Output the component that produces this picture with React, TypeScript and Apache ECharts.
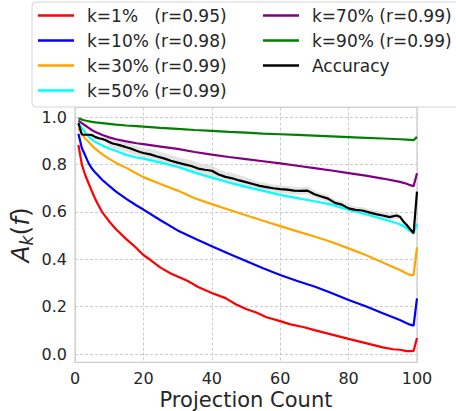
import React, { useEffect, useRef } from "react";
import * as echarts from "echarts";

const seriesNames = [
  "k=1%   (r=0.95)",
  "k=10% (r=0.98)",
  "k=30% (r=0.99)",
  "k=50% (r=0.99)",
  "k=70% (r=0.99)",
  "k=90% (r=0.99)",
  "Accuracy",
];
const seriesColors = ["#ff0000", "#0000ff", "#ffa500", "#00ffff", "#800080", "#008000", "#000000"];

const xTicks = [0, 20, 40, 60, 80, 100];

const smoothX = [1, 2, 3, 4, 5, 6, 8, 10, 12, 15, 18, 20, 25, 30, 35, 40, 45, 50, 55, 60, 65, 70, 75, 80, 85, 90, 95, 97, 98, 99, 100];

const redX = [1, 2, 3, 4, 5, 6, 8, 10, 12, 15, 18, 20, 22, 25, 28, 30, 33, 36, 40, 44, 47, 50, 53, 56, 60, 63, 67, 70, 74, 80, 85, 90, 93, 95, 97, 98, 99, 100];
const k1 = [0.883, 0.8, 0.755, 0.72, 0.685, 0.652, 0.598, 0.56, 0.527, 0.485, 0.447, 0.418, 0.398, 0.365, 0.34, 0.327, 0.308, 0.283, 0.258, 0.236, 0.21, 0.19, 0.175, 0.155, 0.139, 0.125, 0.113, 0.101, 0.086, 0.064, 0.046, 0.028, 0.02, 0.018, 0.012, 0.012, 0.013, 0.068];

const k10 = [0.93, 0.87, 0.838, 0.805, 0.782, 0.765, 0.735, 0.71, 0.686, 0.655, 0.627, 0.61, 0.565, 0.522, 0.488, 0.455, 0.423, 0.393, 0.362, 0.334, 0.308, 0.285, 0.258, 0.228, 0.202, 0.172, 0.144, 0.13, 0.124, 0.12, 0.235];
const k30 = [0.953, 0.93, 0.91, 0.895, 0.88, 0.866, 0.843, 0.824, 0.807, 0.786, 0.762, 0.747, 0.718, 0.69, 0.658, 0.633, 0.609, 0.586, 0.563, 0.54, 0.518, 0.496, 0.473, 0.446, 0.418, 0.386, 0.355, 0.34, 0.334, 0.333, 0.45];
const k50 = [0.975, 0.955, 0.935, 0.918, 0.905, 0.895, 0.88, 0.868, 0.857, 0.841, 0.83, 0.825, 0.808, 0.791, 0.766, 0.745, 0.724, 0.706, 0.689, 0.672, 0.658, 0.645, 0.631, 0.609, 0.59, 0.57, 0.548, 0.531, 0.52, 0.51, 0.55];
const k70 = [0.985, 0.975, 0.965, 0.955, 0.945, 0.938, 0.925, 0.915, 0.907, 0.898, 0.89, 0.886, 0.876, 0.866, 0.853, 0.842, 0.832, 0.823, 0.814, 0.805, 0.795, 0.785, 0.775, 0.764, 0.753, 0.741, 0.727, 0.719, 0.713, 0.709, 0.763];
const k90 = [0.995, 0.99, 0.986, 0.983, 0.98, 0.978, 0.975, 0.972, 0.969, 0.965, 0.962, 0.96, 0.955, 0.951, 0.946, 0.942, 0.938, 0.935, 0.931, 0.928, 0.925, 0.922, 0.919, 0.916, 0.913, 0.91, 0.907, 0.905, 0.904, 0.903, 0.917];

const accX = [1, 2, 3, 4, 5, 6, 7, 8, 9, 10, 11, 12, 13, 14, 15, 16, 17, 18, 19, 20,
  22, 24, 26, 28, 30, 32, 34, 36, 38, 40, 42, 44, 46, 48, 50, 52, 54, 56, 58, 60, 62, 64, 66, 68, 70, 72, 74, 76, 78, 80, 82, 84, 86, 88, 90, 92, 94,
  95, 96, 97, 98, 99, 100];
const accuracy = [0.975, 0.927, 0.926, 0.926, 0.924, 0.916, 0.911, 0.908, 0.903, 0.895, 0.889, 0.886, 0.882, 0.878, 0.873, 0.869, 0.864, 0.858, 0.853, 0.849,
  0.843, 0.834, 0.826, 0.816, 0.808, 0.801, 0.794, 0.783, 0.778, 0.774, 0.758, 0.748, 0.742, 0.733, 0.726, 0.718, 0.71, 0.705, 0.7, 0.696, 0.694, 0.69, 0.689, 0.69, 0.675, 0.665, 0.656, 0.638, 0.631, 0.615, 0.609, 0.606, 0.598, 0.591, 0.585, 0.578, 0.585,
  0.58, 0.56, 0.545, 0.527, 0.51, 0.686];
const accStd = [0.004, 0.004, 0.004, 0.004, 0.008, 0.008, 0.008, 0.008, 0.008,
  0.02, 0.02, 0.02, 0.02, 0.02, 0.02, 0.02, 0.02, 0.02, 0.02, 0.02,
  0.024, 0.024, 0.024, 0.024, 0.024, 0.024, 0.024, 0.024, 0.024, 0.022, 0.022, 0.022, 0.022, 0.022, 0.022,
  0.016, 0.016, 0.016, 0.016, 0.016, 0.016, 0.016, 0.016, 0.016, 0.016,
  0.014, 0.014, 0.014, 0.014, 0.014, 0.014, 0.014, 0.014, 0.014, 0.014, 0.014, 0.014,
  0.01, 0.01, 0.01, 0.01, 0.01, 0.01];

const FONT = "DejaVu Sans";
const TEXT = "#262626";

function pairs(xs: number[], ys: number[]) {
  return xs.map((x, i) => [x, ys[i]]);
}

export default function App() {
  const ref = useRef<HTMLDivElement>(null);
  useEffect(() => {
    if (!ref.current) return;
    const chart = echarts.init(ref.current, undefined, { renderer: "svg" });
    const curveData = [
      pairs(redX, k1),
      pairs(smoothX, k10),
      pairs(smoothX, k30),
      pairs(smoothX, k50),
      pairs(smoothX, k70),
      pairs(smoothX, k90),
      pairs(accX, accuracy),
    ];
    const lines = seriesNames.map((name, i) => ({
      name,
      type: "line",
      data: curveData[i],
      showSymbol: false,
      symbol: "none",
      color: seriesColors[i],
      lineStyle: { color: seriesColors[i], width: 2.2 },
      z: 3,
    }));
    const legendText = {
      fontFamily: FONT,
      fontSize: 17,
      color: TEXT,
      lineHeight: 17,
      padding: [0, 0, 0, 8],
    };
    chart.setOption({
      animation: false,
      backgroundColor: "#ffffff",
      grid: {
        left: 75,
        right: 39,
        top: 107.5,
        bottom: 48.7,
        show: true,
        borderColor: "#cccccc",
        borderWidth: 1.2,
        backgroundColor: "#ffffff",
        containLabel: false,
        outerBoundsMode: "none",
      },
      graphic: [
        {
          type: "rect",
          z: 10,
          shape: { x: 32, y: 2, width: 450, height: 105, r: 4 },
          style: { fill: "rgba(255,255,255,0.85)", stroke: "#d6d6d6", lineWidth: 1 },
        },
      ],
      legend: [
        {
          data: seriesNames.slice(0, 4),
          orient: "vertical",
          left: 38,
          top: 7,
          padding: 0,
          itemGap: 8,
          itemWidth: 36,
          itemHeight: 2.5,
          icon: "rect",
          textStyle: legendText,
          z: 20,
          selectedMode: false,
        },
        {
          data: seriesNames.slice(4),
          orient: "vertical",
          left: 263,
          top: 7,
          padding: 0,
          itemGap: 8,
          itemWidth: 36,
          itemHeight: 2.5,
          icon: "rect",
          textStyle: legendText,
          z: 20,
          selectedMode: false,
        },
      ],
      xAxis: {
        type: "value",
        min: xTicks[0],
        max: xTicks[xTicks.length - 1],
        interval: 20,
        name: "Projection Count",
        nameLocation: "middle",
        nameGap: 27,
        nameMoveOverlap: false,
        nameTextStyle: { fontFamily: FONT, fontSize: 21, color: TEXT },
        axisLine: { show: false },
        axisTick: { show: false },
        axisLabel: { fontFamily: FONT, fontSize: 16, color: TEXT, margin: 8 },
        splitLine: { show: true, lineStyle: { color: "#cccccc", type: [3, 2], width: 1 } },
      },
      yAxis: {
        type: "value",
        min: -0.035,
        max: 1.041,
        name: "{a|A}{s|k}{b|(}{a|f}{b|)}",
        nameLocation: "middle",
        nameGap: 40,
        nameRotate: 90,
        nameMoveOverlap: false,
        nameTextStyle: {
          rich: {
            a: { fontFamily: FONT, fontSize: 25, fontStyle: "italic", color: TEXT, lineHeight: 30 },
            b: { fontFamily: FONT, fontSize: 25, color: TEXT, lineHeight: 30 },
            s: { fontFamily: FONT, fontSize: 17, fontStyle: "italic", color: TEXT, lineHeight: 14, verticalAlign: "bottom" },
          },
        },
        axisLine: { show: false },
        axisTick: { show: false },
        axisLabel: {
          fontFamily: FONT,
          fontSize: 16,
          color: TEXT,
          margin: 8,
          showMinLabel: false,
          showMaxLabel: false,
          formatter: (v: number) => v.toFixed(1),
        },
        splitLine: { show: true, lineStyle: { color: "#cccccc", type: [3, 2], width: 1 } },
      },
      series: [
        {
          name: "_accBand",
          type: "custom",
          data: [[0, 0]],
          silent: true,
          z: 1,
          renderItem: (_params: any, api: any) => {
            const upper = accX.map((x, i) => api.coord([x, accuracy[i] + accStd[i]]));
            const lower = accX.map((x, i) => api.coord([x, accuracy[i] - accStd[i]])).reverse();
            return {
              type: "polygon",
              shape: { points: upper.concat(lower) },
              style: { fill: "#dcdcdc", opacity: 0.8 },
            };
          },
        },
        ...lines,
      ],
    });
    return () => chart.dispose();
  }, []);
  return <div ref={ref} style={{ width: 456, height: 411, position: "absolute", left: 0, top: 0 }} />;
}
